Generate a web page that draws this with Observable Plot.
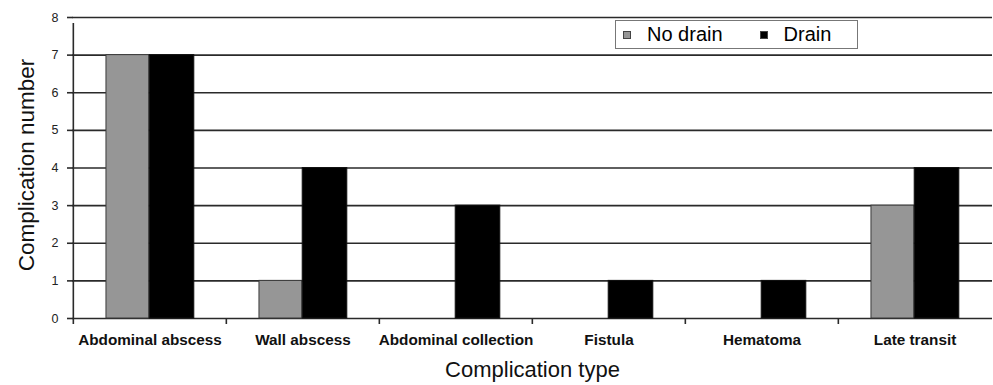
<!DOCTYPE html>
<html>
<head>
<meta charset="utf-8">
<script src="https://cdn.jsdelivr.net/npm/d3@7"></script>
<script src="https://cdn.jsdelivr.net/npm/@observablehq/plot@0.6"></script>
<style>
  body { margin: 0; background: #fff; font-family: "Liberation Sans", Arial, sans-serif; }
  #chart { position: relative; width: 993px; height: 385px; }
  .legend { position: absolute; left: 615px; top: 20px; width: 243px; height: 29px;
            border: 1px solid #777; background: #fff; display: flex; align-items: center;
            font-size: 20px; color: #000; box-sizing: border-box; }
  .legend .item { display: flex; align-items: center; }
  .legend .sw { width: 8px; height: 8px; box-sizing: border-box; border: 1px solid #444; margin: 0 16px 0 7px; }
</style>
</head>
<body>
<div id="chart"></div>
<script>
const categories = ["Abdominal abscess", "Wall abscess", "Abdominal collection", "Fistula", "Hematoma", "Late transit"];
const seriesNames = ["No drain", "Drain"];
const noDrain = [7, 1, 0, 0, 0, 3];
const drain = [7, 4, 3, 1, 1, 4];
const yTicks = [0, 1, 2, 3, 4, 5, 6, 7, 8];
const colors = ["#969696", "#000000"];
const yLabel = "Complication number";
const xLabel = "Complication type";

const W = 993, H = 385, mL = 72, mR = 1, mT = 17, mB = 67;
const bw = (W - mL - mR) / categories.length;

const rows = [];
categories.forEach((c, i) => {
  rows.push({cat: c, series: seriesNames[0], value: noDrain[i]});
  rows.push({cat: c, series: seriesNames[1], value: drain[i]});
});
const nonZero = rows.filter(d => d.value > 0);
const gray = nonZero.filter(d => d.series === seriesNames[0]);
const black = nonZero.filter(d => d.series === seriesNames[1]);

const svg = Plot.plot({
  width: W, height: H,
  marginLeft: mL, marginRight: mR, marginTop: mT, marginBottom: mB,
  style: {fontFamily: "Liberation Sans, Arial, sans-serif", background: "#fff", color: "#000"},
  x: {domain: categories, padding: 0, label: null},
  y: {domain: [0, 8], label: null, axis: null},
  color: {domain: seriesNames, range: colors},
  marks: [
    Plot.ruleY(yTicks, {stroke: "#2a2a2a", strokeWidth: 1.6}),
    Plot.barY(gray, {x: "cat", y: "value", fill: "series", stroke: "#3a3a3a", strokeWidth: 1,
      insetLeft: bw * 0.215, insetRight: bw * 0.503}),
    Plot.barY(black, {x: "cat", y: "value", fill: "series", stroke: "#111", strokeWidth: 1,
      insetLeft: bw * 0.497, insetRight: bw * 0.21}),
    Plot.tickY(yTicks, {y: d => d, frameAnchor: "left", stroke: "#2a2a2a", strokeWidth: 1.6, x: () => categories[0], dx: -bw / 2 - 3, insetLeft: bw / 2 - 3, insetRight: bw / 2 - 3}),
    Plot.text(yTicks, {y: d => d, frameAnchor: "left", textAnchor: "end", dx: -14, fontSize: 12.5, fill: "#222", text: d => String(d)}),
    Plot.ruleX([0], {x: () => categories[0], dx: -bw / 2, y1: 0, y2: 8, stroke: "#2a2a2a", strokeWidth: 1.6, insetBottom: -6}),
    Plot.axisX({ticks: categories, tickSize: 6, dx: -bw / 2, text: null, label: null, stroke: "#2a2a2a", strokeWidth: 1.6}),
    Plot.axisX({ticks: categories, tickSize: 0, tickPadding: 16, fontSize: 15.3, fontWeight: "bold", fill: "#111", label: null}),
    Plot.text([yLabel], {frameAnchor: "left", textAnchor: "middle", rotate: -90, dx: -46, dy: -3, fontSize: 22.5, fill: "#111", text: d => d}),
    Plot.text([xLabel], {frameAnchor: "bottom", dy: 58, fontSize: 22, fill: "#111", text: d => d})
  ]
});

const chart = document.getElementById("chart");
chart.appendChild(svg);

const legend = document.createElement("div");
legend.className = "legend";
seriesNames.forEach((name, i) => {
  const item = document.createElement("div");
  item.className = "item";
  if (i > 0) item.style.marginLeft = "30px";
  const sw = document.createElement("span");
  sw.className = "sw";
  sw.style.background = colors[i];
  const t = document.createElement("span");
  t.textContent = name;
  item.appendChild(sw);
  item.appendChild(t);
  legend.appendChild(item);
});
chart.appendChild(legend);
</script>
</body>
</html>
